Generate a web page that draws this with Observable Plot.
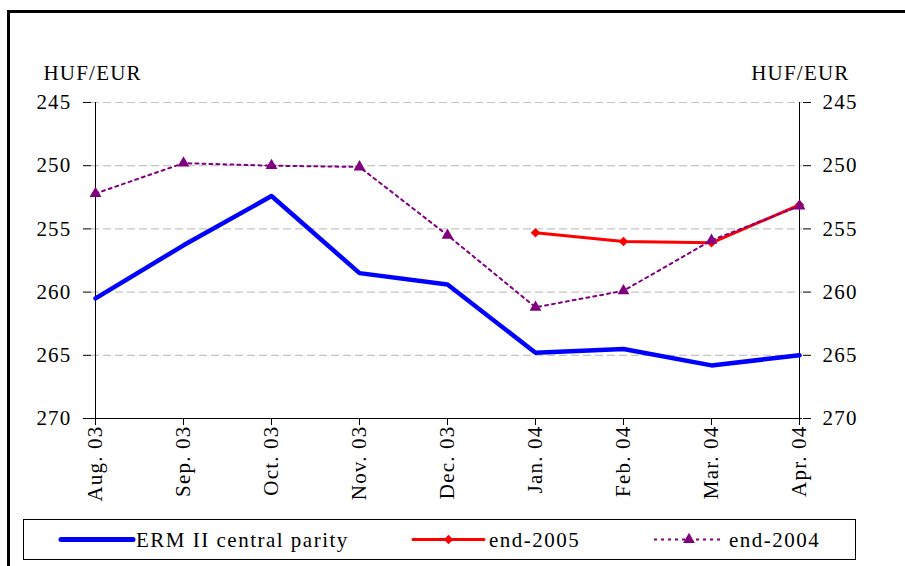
<!DOCTYPE html>
<html>
<head>
<meta charset="utf-8">
<script src="https://cdn.jsdelivr.net/npm/d3@7"></script>
<script src="https://cdn.jsdelivr.net/npm/@observablehq/plot@0.6"></script>
<style>
  html, body { margin: 0; padding: 0; background: #fff; }
  #page { position: relative; width: 905px; height: 566px; overflow: hidden; font-family: "Liberation Serif", "Times New Roman", serif; }
  #frame { position: absolute; left: 7px; top: 10px; right: -20px; bottom: -20px; border-left: 3px solid #000; border-top: 3px solid #000; }
  #chart { position: absolute; left: 0; top: 0; }
  #chart svg, #chart svg text { font-family: "Liberation Serif", "Times New Roman", serif !important; }
  #chart svg text { letter-spacing: 1.2px; }
  #legend { position: absolute; left: 23px; top: 519px; width: 831px; height: 39px; border: 1px solid #000; background: #fff; }
  .key { position: absolute; top: 0; }
  .lab { position: absolute; top: 10px; height: 20px; line-height: 20px; font-size: 21px; letter-spacing: 1.5px; color: #000; white-space: nowrap; font-family: "Liberation Serif", "Times New Roman", serif; }
</style>
</head>
<body>
<div id="page">
  <div id="frame"></div>
  <div id="chart"></div>
  <div id="legend"></div>
</div>
<script>
// Month labels along the x axis
const months = ["Aug. 03", "Sep. 03", "Oct. 03", "Nov. 03", "Dec. 03", "Jan. 04", "Feb. 04", "Mar. 04", "Apr. 04"];
// ERM II central parity expectations (HUF/EUR)
const parity = [260.5, 256.3, 252.4, 258.5, 259.4, 264.8, 264.5, 265.8, 265.0];
// Exchange-rate expectations for end-2005 (surveyed from Jan. 04)
const end2005 = [null, null, null, null, null, 255.3, 256.0, 256.1, 253.1];
// Exchange-rate expectations for end-2004
const end2004 = [252.2, 249.8, 250.0, 250.1, 255.5, 261.2, 259.9, 255.9, 253.2];
// Value axis ticks
const yTicks = [245, 250, 255, 260, 265, 270];
const unitLabel = "HUF/EUR";

const seriesNames = ["ERM II central parity", "end-2005", "end-2004"];
const colors = {parity: "#0000ff", end2005: "#ff0000", end2004: "#800080"};
const serif = "'Liberation Serif', 'Times New Roman', serif";

const rows = (vals) => months.map((m, i) => ({month: m, value: vals[i]})).filter(d => d.value != null);
const parityRows = rows(parity);
const end2005Rows = rows(end2005);
const end2004Rows = rows(end2004);

const chart = Plot.plot({
  width: 905,
  height: 510,
  marginLeft: 91,
  marginRight: 103,
  marginTop: 102,
  marginBottom: 92,
  style: {fontFamily: serif, fontSize: "21px", color: "#000", background: "transparent", overflow: "visible"},
  x: {type: "point", domain: months, padding: 0},
  y: {domain: [245, 270], reverse: true},
  marks: [
    Plot.ruleY(yTicks.slice(0, -1), {stroke: "#c4c4c4", strokeWidth: 1.2, strokeDasharray: "8,4"}),
    Plot.ruleX([months[0]], {stroke: "#000", strokeWidth: 1}),
    Plot.ruleX([months[months.length - 1]], {stroke: "#000", strokeWidth: 1}),
    Plot.ruleY([270], {stroke: "#000", strokeWidth: 1}),
    Plot.axisY(yTicks, {anchor: "left", tickSize: 8, tickPadding: 12, label: null, fontSize: 21, fontFamily: serif}),
    Plot.axisY(yTicks, {anchor: "right", tickSize: 8, tickPadding: 12, label: null, fontSize: 21, fontFamily: serif}),
    Plot.axisX(months, {anchor: "bottom", tickRotate: -90, tickSize: 7, tickPadding: 0, label: null, fontSize: 21, fontFamily: serif}),
    Plot.text([unitLabel], {frameAnchor: "top-left", textAnchor: "start", lineAnchor: "bottom", dx: -48, dy: -23, fontSize: 21, fontFamily: serif}),
    Plot.text([unitLabel], {frameAnchor: "top-right", textAnchor: "end", lineAnchor: "bottom", dx: 47, dy: -23, fontSize: 21, fontFamily: serif}),
    Plot.line(parityRows, {x: "month", y: "value", stroke: colors.parity, strokeWidth: 4.5, strokeLinejoin: "round"}),
    Plot.line(end2005Rows, {x: "month", y: "value", stroke: colors.end2005, strokeWidth: 3}),
    Plot.dot(end2005Rows, {x: "month", y: "value", symbol: "diamond2", r: 4.3, fill: colors.end2005}),
    Plot.line(end2004Rows, {x: "month", y: "value", stroke: colors.end2004, strokeWidth: 2, strokeDasharray: "3,4"}),
    Plot.dot(end2004Rows, {x: "month", y: "value", symbol: "triangle", r: 4.4, fill: colors.end2004})
  ]
});
document.getElementById("chart").appendChild(chart);

// Legend: swatches drawn with small SVGs, labels as text
const legend = d3.select("#legend");
const items = [
  {name: seriesNames[0], color: colors.parity, x0: 37, x1: 109, width: 5, dash: null, symbol: null, text: 112},
  {name: seriesNames[1], color: colors.end2005, x0: 389, x1: 460, width: 3, dash: null, symbol: d3.symbolDiamond2, size: 55, text: 465},
  {name: seriesNames[2], color: colors.end2004, x0: 630, x1: 700, width: 2, dash: "3,4", symbol: d3.symbolTriangle, size: 60, text: 705}
];
for (const it of items) {
  const svg = legend.append("svg").attr("class", "key")
    .style("left", "0px").attr("width", 831).attr("height", 39)
    .style("pointer-events", "none");
  svg.append("line")
    .attr("x1", it.x0).attr("x2", it.x1).attr("y1", 19.5).attr("y2", 19.5)
    .attr("stroke", it.color).attr("stroke-width", it.width)
    .attr("stroke-linecap", it.dash ? "butt" : "round")
    .attr("stroke-dasharray", it.dash);
  if (it.symbol) {
    svg.append("path")
      .attr("d", d3.symbol(it.symbol, it.size)())
      .attr("transform", `translate(${(it.x0 + it.x1) / 2},19.5)`)
      .attr("fill", it.color);
  }
  legend.append("div").attr("class", "lab").style("left", it.text + "px").text(it.name);
}
</script>
</body>
</html>
